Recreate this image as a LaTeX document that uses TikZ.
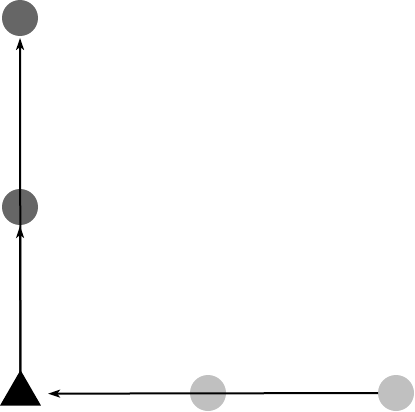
\documentclass[tikz,border=0pt]{standalone}
\usetikzlibrary{arrows.meta,shapes.geometric}
\definecolor{darkdot}{HTML}{666666}
\definecolor{lightdot}{HTML}{C0C0C0}
\begin{document}
\begin{tikzpicture}[x=1pt,y=1pt,
  darkc/.style={circle,fill=darkdot,minimum size=36pt,inner sep=0pt,outer sep=0pt},
  lightc/.style={circle,fill=lightdot,minimum size=36pt,inner sep=0pt,outer sep=0pt},
  tri/.style={regular polygon,regular polygon sides=3,fill=black,minimum size=47.3pt,inner sep=0pt,outer sep=0pt},
  link/.style={line width=2pt,-{Stealth[length=12pt,width=8pt,inset=3pt]}}]
\useasboundingbox (0,0) rectangle (415,-412);
\node[darkc] (top) at (20,-18) {};
\node[darkc] (mid) at (20,-207) {};
\node[lightc] (l1) at (208,-393) {};
\node[lightc] (l2) at (396,-393) {};
\node[tri] (t) at (20.5,-393.7) {};
\draw[link,shorten <=-5pt,shorten >=2pt] (t) -- (top);
\draw[link,shorten <=-5pt,shorten >=1pt] (t) -- (mid);
\draw[link,shorten >=14pt] (l2) -- (t);
\end{tikzpicture}
\end{document}
